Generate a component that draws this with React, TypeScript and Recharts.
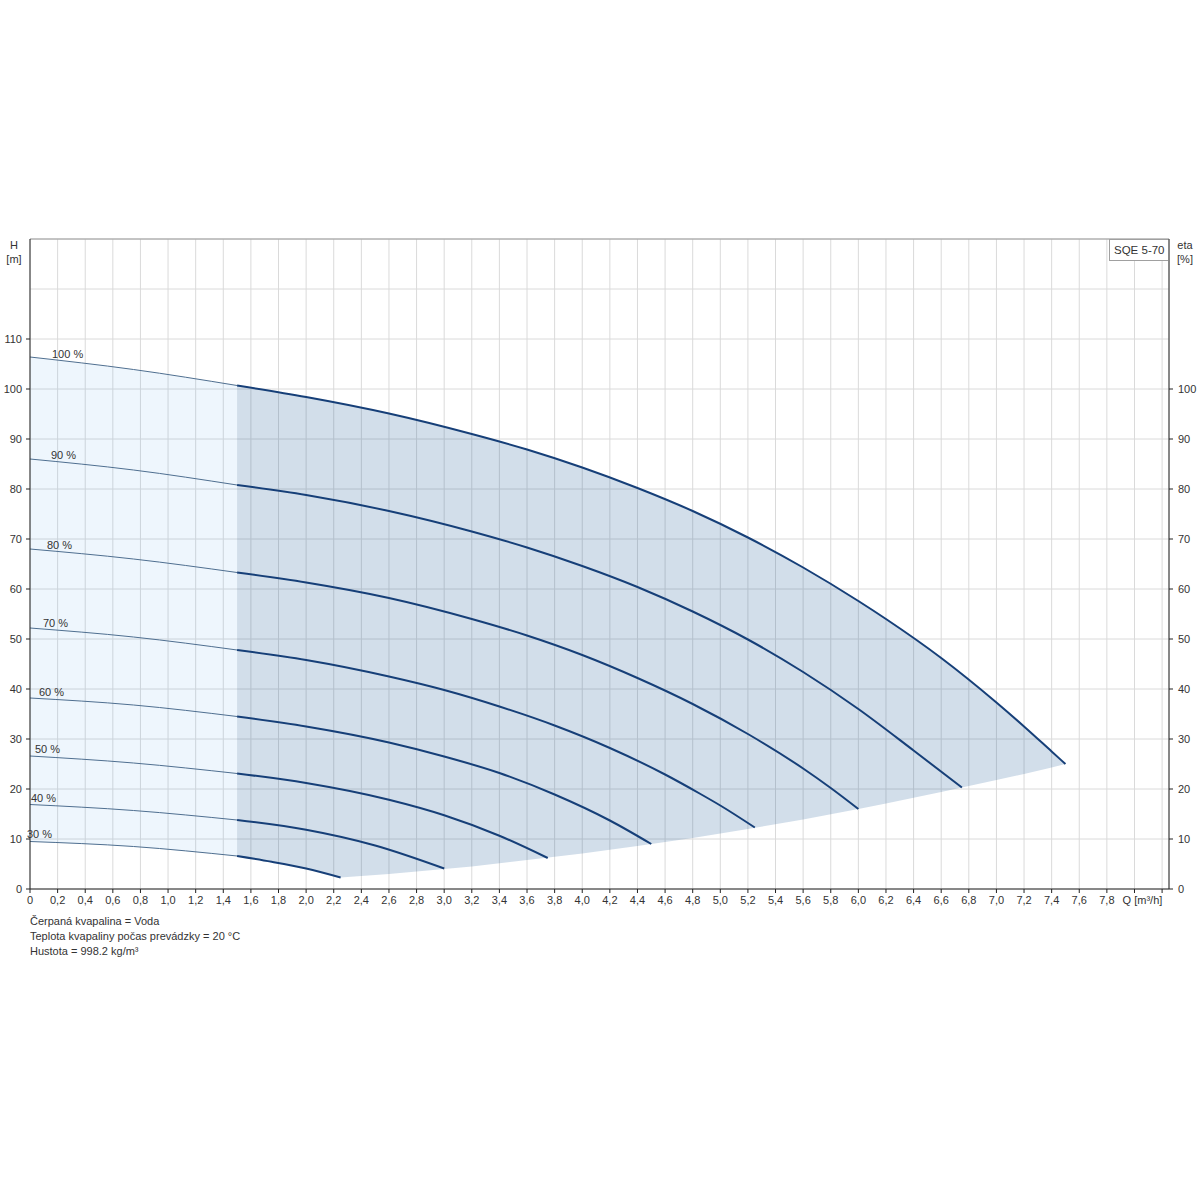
import { ComposedChart, Line, Area, XAxis, YAxis, CartesianGrid, ReferenceLine, LabelList } from 'recharts';

// speed labels, top curve first
const speedLabels = ['100 %', '90 %', '80 %', '70 %', '60 %', '50 %', '40 %', '30 %'];

// thin part of every curve, Q = 0 .. 1.5 m³/h
const thinQ = [0, 0.75, 1.5];
const thin100 = [106.4, 103.9, 100.7];
const thin90 = [86.0, 83.8, 80.8];
const thin80 = [68.0, 66.0, 63.3];
const thin70 = [52.2, 50.4, 47.8];
const thin60 = [38.2, 36.8, 34.5];
const thin50 = [26.6, 25.2, 23.1];
const thin40 = [16.9, 15.7, 13.8];
const thin30 = [9.5, 8.5, 6.6];

// thick part, Q from 1.5 m³/h to the end of each curve
const q100 = [1.5, 2.0, 2.6, 3.2, 3.6, 4.0, 4.4, 4.8, 5.2, 5.6, 6.0, 6.2, 6.6, 7.0, 7.2, 7.4, 7.5];
const h100 = [100.7, 98.4, 95.1, 91.0, 87.9, 84.3, 80.2, 75.6, 70.3, 64.3, 57.6, 54.0, 46.2, 37.3, 32.5, 27.5, 25.0];
const q90 = [1.5, 2.0, 2.6, 3.2, 3.6, 4.0, 4.4, 4.8, 5.2, 5.6, 6.0, 6.4, 6.75];
const h90 = [80.8, 78.8, 75.6, 71.5, 68.3, 64.6, 60.4, 55.5, 49.9, 43.4, 36.0, 27.7, 20.3];
const q80 = [1.5, 2.0, 2.6, 3.2, 3.6, 4.0, 4.4, 4.8, 5.2, 5.6, 5.8, 6.0];
const h80 = [63.3, 61.3, 58.2, 54.0, 50.7, 46.8, 42.2, 37.0, 31.0, 24.1, 20.2, 16.0];
const q70 = [1.5, 2.0, 2.6, 3.0, 3.4, 3.8, 4.2, 4.6, 4.85, 5.0, 5.25];
const h70 = [47.8, 45.8, 42.5, 39.8, 36.5, 32.7, 28.2, 22.9, 19.1, 16.7, 12.3];
const q60 = [1.5, 2.0, 2.6, 3.0, 3.4, 3.8, 4.2, 4.5];
const h60 = [34.5, 32.5, 29.3, 26.5, 23.2, 18.9, 13.7, 9.0];
const q50 = [1.5, 2.0, 2.6, 3.0, 3.4, 3.75];
const h50 = [23.1, 21.2, 17.85, 14.75, 10.65, 6.2];
const q40 = [1.5, 2.0, 2.5, 3.0];
const h40 = [13.8, 11.85, 8.7, 4.1];
const q30 = [1.5, 1.75, 2.0, 2.25];
const h30 = [6.6, 5.45, 4.1, 2.3];

// shaded operating range
const lightQ = [0, 0.75, 1.5];
const lightTop = [106.4, 103.9, 100.7];
const lightBottom = [9.5, 8.5, 6.6];
const darkQ = [1.5, 1.75, 2.0, 2.25, 2.6, 3.2, 3.6, 4.0, 4.4, 4.8, 5.2, 5.6, 6.0, 6.2, 6.6, 7.0, 7.2, 7.4, 7.5];
const darkTop = [100.7, 99.6, 98.4, 97.1, 95.1, 91.0, 87.9, 84.3, 80.2, 75.6, 70.3, 64.3, 57.6, 54.0, 46.2, 37.3, 32.5, 27.5, 25.0];
const darkBottom = [6.6, 5.45, 4.1, 2.3, 3.0, 4.5, 5.8, 7.1, 8.6, 10.2, 12.0, 13.9, 16.0, 17.1, 19.4, 21.8, 23.0, 24.3, 25.0];

// axis ticks
const xTicks = [0, 0.2, 0.4, 0.6, 0.8, 1.0, 1.2, 1.4, 1.6, 1.8, 2.0, 2.2, 2.4, 2.6, 2.8, 3.0, 3.2, 3.4, 3.6, 3.8, 4.0,
  4.2, 4.4, 4.6, 4.8, 5.0, 5.2, 5.4, 5.6, 5.8, 6.0, 6.2, 6.4, 6.6, 6.8, 7.0, 7.2, 7.4, 7.6, 7.8, 8.0, 8.2];
const hTicks = [0, 10, 20, 30, 40, 50, 60, 70, 80, 90, 100, 110, 120, 130];
const hLabelMax = 110;
const etaTicks = [0, 10, 20, 30, 40, 50, 60, 70, 80, 90, 100];

const notes = [
  'Čerpaná kvapalina = Voda',
  'Teplota kvapaliny počas prevádzky = 20 °C',
  'Hustota = 998.2 kg/m³',
];

const rows = (qs: number[], hs: number[]) => qs.map((q, i) => ({ q, h: hs[i] }));
const band = (qs: number[], lo: number[], hi: number[]) => qs.map((q, i) => ({ q, range: [lo[i], hi[i]] }));

const thinCurves = [thin100, thin90, thin80, thin70, thin60, thin50, thin40, thin30].map(hs => rows(thinQ, hs));
const thickCurves = [
  rows(q100, h100), rows(q90, h90), rows(q80, h80), rows(q70, h70),
  rows(q60, h60), rows(q50, h50), rows(q40, h40), rows(q30, h30),
];
const lightBand = band(lightQ, lightBottom, lightTop);
const darkBand = band(darkQ, darkBottom, darkTop);

// where the "xx %" text sits relative to the curve start
const labelOffsets = [[22, 1], [21, 0], [17, 0], [13, -1], [9, -2], [5, -3], [1, -3], [-3, -4]];

const FONT = '"Liberation Sans", Arial, sans-serif';
const TEXT = '#333';
const AXIS = '#222';
const THICK = '#163f78';
const THIN = '#4f6f90';
const TICK_SIZE = 4;
const TICK_MARGIN = 4;

const fmtQ = (v: number) => (v === 0 ? '0' : v.toFixed(1).replace('.', ','));

function QTick({ x, y, payload }: any) {
  const v = payload.value;
  if (v > 8.1) return null;
  const label = v === 8 ? 'Q [m³/h]' : fmtQ(v);
  return (
    <text x={v === 8 ? x + 8 : x} y={y} dy="0.71em" textAnchor="middle" fontSize={11} fill={TEXT}>{label}</text>
  );
}

// left axis: ticks up to 130 feed the grid, only 0..110 get a mark and a number
function HTick({ x, y, payload }: any) {
  if (payload.value > hLabelMax) return null;
  return (
    <g>
      <line x1={x + TICK_MARGIN} x2={x + TICK_MARGIN + TICK_SIZE} y1={y} y2={y} stroke={AXIS} />
      <text x={x} y={y} dy="0.355em" textAnchor="end" fontSize={11} fill={TEXT}>{payload.value}</text>
    </g>
  );
}

export default function App() {
  return (
    <div style={{ position: 'absolute', left: 0, top: 0, width: 1200, height: 1200, background: '#fff', fontFamily: FONT }}>
      <ComposedChart
        width={1200}
        height={1200}
        margin={{ top: 239, right: 0, bottom: 281, left: 0 }}
        style={{ fontFamily: FONT }}
      >
        <CartesianGrid yAxisId="h" stroke="#dadada" strokeWidth={1} />
        <XAxis
          type="number"
          dataKey="q"
          domain={[0, 8.25]}
          allowDataOverflow
          ticks={xTicks}
          interval={0}
          height={30}
          tickSize={4}
          tickMargin={3}
          stroke={AXIS}
          tick={<QTick />}
        />
        <YAxis
          yAxisId="h"
          domain={[0, 130]}
          allowDataOverflow
          ticks={hTicks}
          interval={0}
          width={30}
          tickSize={TICK_SIZE}
          tickMargin={TICK_MARGIN}
          tickLine={false}
          stroke={AXIS}
          tick={<HTick />}
        />
        <YAxis
          yAxisId="eta"
          orientation="right"
          domain={[0, 130]}
          allowDataOverflow
          ticks={etaTicks}
          interval={0}
          width={31}
          tickSize={4}
          tickMargin={5}
          stroke={AXIS}
          tick={{ fontSize: 11, fill: TEXT }}
        />
        <ReferenceLine yAxisId="h" y={130} stroke="#9a9a9a" />

        <Area
          yAxisId="eta"
          data={lightBand}
          dataKey="range"
          type="linear"
          fill="#3d9be9"
          fillOpacity={0.09}
          stroke="none"
          isAnimationActive={false}
        />
        <Area
          yAxisId="h"
          data={darkBand}
          dataKey="range"
          type="linear"
          fill="#1e5a96"
          fillOpacity={0.2}
          stroke="none"
          isAnimationActive={false}
        />

        {thinCurves.map((d, i) => (
          <Line
            key={`thin-${i}`}
            yAxisId="h"
            data={d}
            dataKey="h"
            type="monotone"
            stroke={THIN}
            strokeWidth={1}
            dot={false}
            activeDot={false}
            isAnimationActive={false}
          >
            <LabelList
              dataKey="h"
              content={(p: any) =>
                p.index === 0 ? (
                  <text
                    x={p.x + labelOffsets[i][0]}
                    y={p.y + labelOffsets[i][1]}
                    fontSize={11}
                    fill={TEXT}
                    fontFamily={FONT}
                  >
                    {speedLabels[i]}
                  </text>
                ) : null
              }
            />
          </Line>
        ))}
        {thickCurves.map((d, i) => (
          <Line
            key={`thick-${i}`}
            yAxisId="h"
            data={d}
            dataKey="h"
            type="monotone"
            stroke={THICK}
            strokeWidth={2}
            dot={false}
            activeDot={false}
            isAnimationActive={false}
          />
        ))}
      </ComposedChart>

      {/* axis titles */}
      <div style={{ position: 'absolute', left: 0, top: 238, width: 28, textAlign: 'center', fontSize: 11, lineHeight: '14px', color: TEXT }}>
        H<br />[m]
      </div>
      <div style={{ position: 'absolute', left: 1171, top: 238, width: 28, textAlign: 'center', fontSize: 11, lineHeight: '14px', color: TEXT }}>
        eta<br />[%]
      </div>

      {/* pump name box */}
      <div
        style={{
          position: 'absolute', left: 1109, top: 239, width: 59, height: 22, boxSizing: 'border-box',
          border: '1px solid #a0a0a0', borderRight: 'none', fontSize: 11.5, lineHeight: '20px', paddingLeft: 4, color: TEXT,
          background: '#fff',
        }}
      >
        SQE 5-70
      </div>

      {/* fluid notes */}
      <div style={{ position: 'absolute', left: 30, top: 914, fontSize: 11, lineHeight: '15px', color: TEXT }}>
        {notes.map(n => <div key={n}>{n}</div>)}
      </div>
    </div>
  );
}
